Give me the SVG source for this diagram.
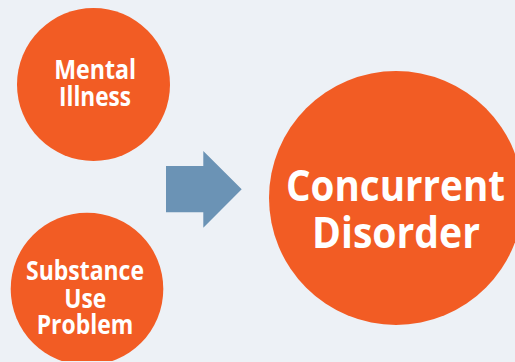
<svg xmlns="http://www.w3.org/2000/svg" width="515" height="362" viewBox="0 0 515 362">
<defs>
<style>
.node{fill:#F25C24}
.lbl{fill:#FFFFFF;font-family:"Open Sans","Noto Sans","Liberation Sans",sans-serif;font-weight:700;text-anchor:middle}
.sm{font-size:26.5px}
.lg{font-size:43.5px}
.arrow{fill:#6B93B5}
</style>
<clipPath id="cut"><rect x="0" y="0" width="515" height="361"/></clipPath>
</defs>
<rect width="515" height="362" fill="#EDF1F6"/>
<g id="mental-illness">
<circle class="node" cx="93.5" cy="84.5" r="76.5"/>
<text class="lbl sm" x="95.2" y="79" textLength="82" lengthAdjust="spacingAndGlyphs">Mental</text>
<text class="lbl sm" x="95" y="106" textLength="72" lengthAdjust="spacingAndGlyphs">Illness</text>
</g>
<g id="substance-use-problem">
<circle class="node" cx="87" cy="289" r="76.3" clip-path="url(#cut)"/>
<text class="lbl sm" x="85" y="280" textLength="118" lengthAdjust="spacingAndGlyphs">Substance</text>
<text class="lbl sm" x="85.2" y="307.5" textLength="42" lengthAdjust="spacingAndGlyphs">Use</text>
<text class="lbl sm" x="85" y="334" textLength="96.6" lengthAdjust="spacingAndGlyphs">Problem</text>
</g>
<g id="connectors">
<polygon class="arrow" points="166,166 203.3,166 203.3,151 241.7,189.3 203.3,227.7 203.3,212.3 166,212.3"/>
</g>
<g id="concurrent-disorder">
<circle class="node" cx="396" cy="198" r="127"/>
<text class="lbl lg" x="395.5" y="200.7" textLength="219" lengthAdjust="spacingAndGlyphs">Concurrent</text>
<text class="lbl lg" x="396" y="248" textLength="168" lengthAdjust="spacingAndGlyphs">Disorder</text>
</g>
</svg>
